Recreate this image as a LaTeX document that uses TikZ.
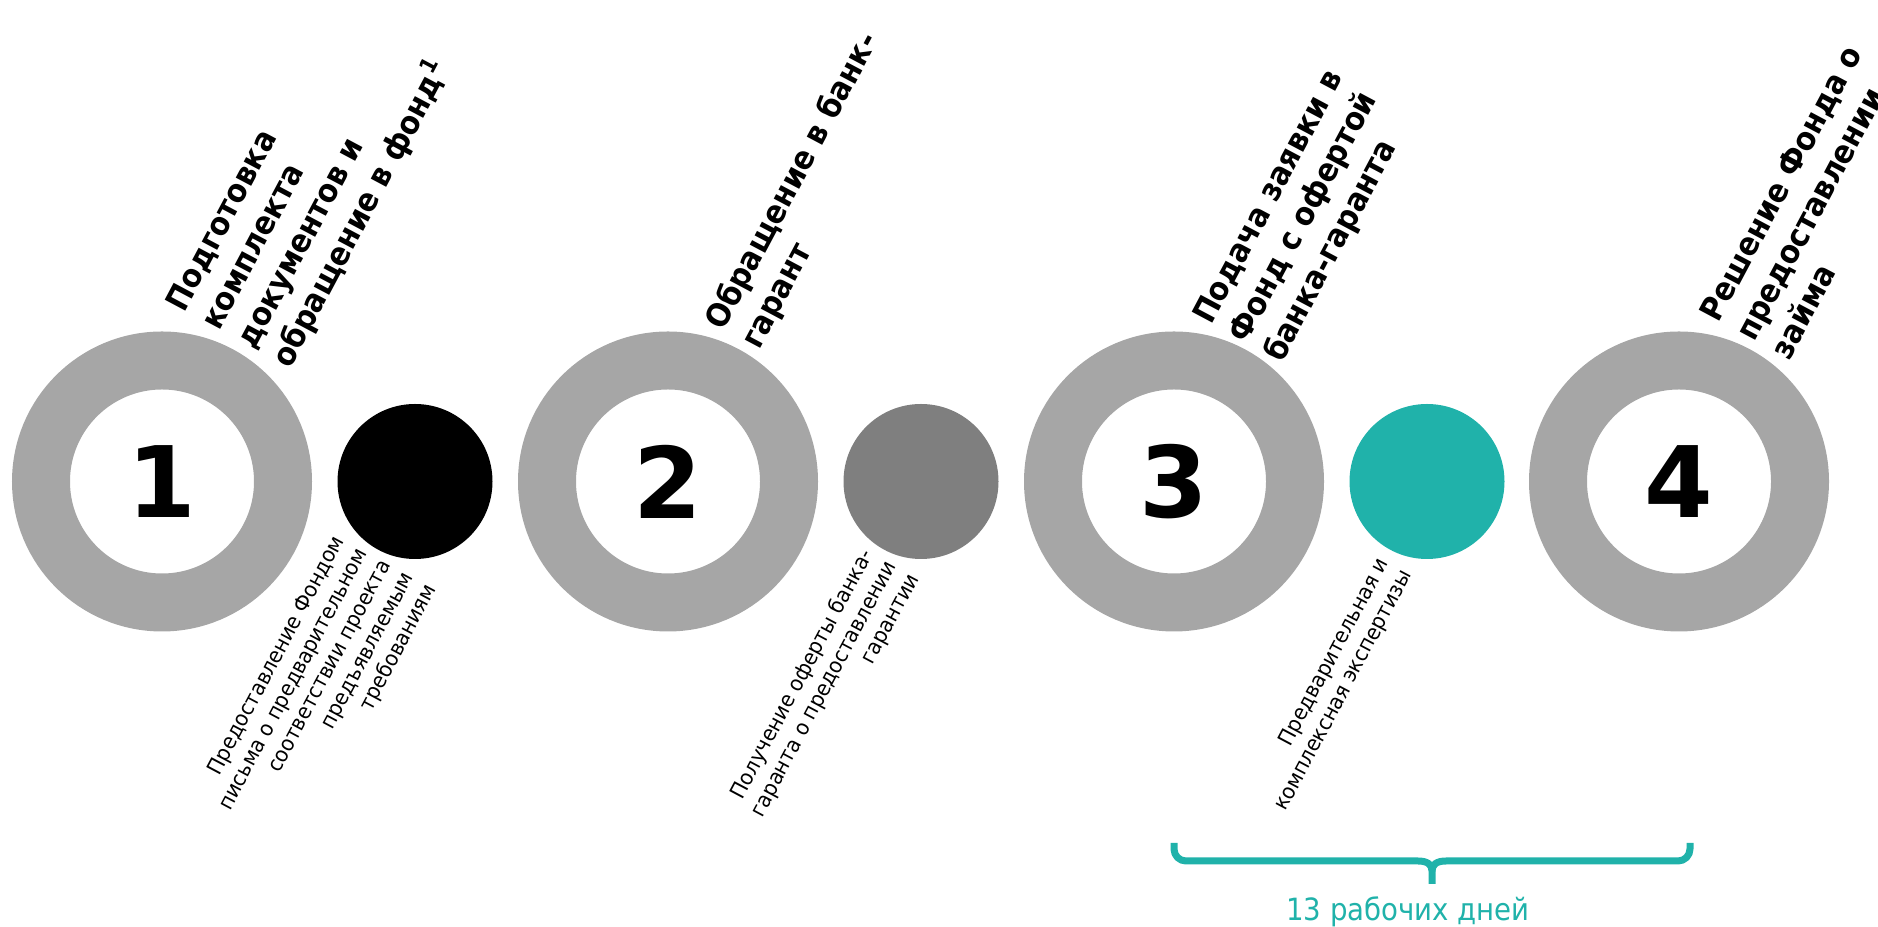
\documentclass[tikz,border=0pt]{standalone}
\usepackage{fontspec}
\setmainfont{DejaVu Sans}
\newfontfamily\headfont[FakeStretch=0.915]{DejaVu Sans}
\newfontfamily\notefont[FakeStretch=0.94]{DejaVu Sans}
\newfontfamily\daysfont[FakeStretch=0.9]{DejaVu Sans}
\definecolor{ringgray}{RGB}{166,166,166}
\definecolor{dotgray}{RGB}{127,127,127}
\definecolor{dotteal}{RGB}{32,178,170}
\tikzset{
  ring-gray/.style={circle, draw=ringgray, line width=43.5pt, minimum size=181.5pt,
    inner sep=0pt, font=\fontsize{74}{74}\selectfont\bfseries},
  node-spot/.style={circle, minimum size=116.25pt, inner sep=0pt},
  label-head/.style={rotate=62, align=left, inner sep=0pt,
    font=\headfont\fontsize{24}{30}\selectfont\bfseries},
  label-note/.style={rotate=62, align=right, inner sep=0pt,
    font=\notefont\fontsize{16}{19.5}\selectfont},
  brace/.style={draw=dotteal, line width=5.25pt, line join=round}
}

\begin{document}
\begin{tikzpicture}[x=0.75pt,y=0.75pt]
  \useasboundingbox (0,0) rectangle (1878,927);

  % steps
  \node[ring-gray] (step1) at (162,445.5) {1};
  \node[node-spot, fill=black] (spot1) at (415,445.5) {};
  \node[ring-gray] (step2) at (668,445.5) {2};
  \node[node-spot, fill=dotgray] (spot2) at (921,445.5) {};
  \node[ring-gray] (step3) at (1174,445.5) {3};
  \node[node-spot, fill=dotteal] (spot3) at (1427,445.5) {};
  \node[ring-gray] (step4) at (1679,445.5) {4};

  % titles above the rings
  \node[label-head, anchor=south west] (head1) at (296,554)
    {Подготовка\\комплекта\\документов и\\обращение в фонд\textsuperscript{1}};
  \node[label-head, anchor=south west] (head2) at (765,573)
    {Обращение в банк-\\гарант};
  \node[label-head, anchor=south west] (head3) at (1288,560)
    {Подача заявки в\\Фонд с офертой\\банка-гаранта};
  \node[label-head, anchor=south west] (head4) at (1790,565)
    {Решение Фонда о\\предоставлении\\займа};

  % notes under the spots
  \node[label-note, anchor=north east] (note1) at (331,394)
    {Предоставление Фондом\\письма о предварительном\\соответствии проекта\\предъявляемым\\требованиям};
  \node[label-note, anchor=north east] (note2) at (858.6,381)
    {Получение оферты банка-\\гаранта о предоставлении\\гарантии};
  \node[label-note, anchor=north east] (note3) at (1375,372)
    {Предварительная и\\комплексная экспертизы};

  % brace
  \draw[brace] (1174,84) -- (1174,78) arc[start angle=180, end angle=270, radius=12]
    -- (1418,66) .. controls (1428,66) and (1432,62) .. (1432,56) -- (1432,43);
  \draw[brace] (1432,56) .. controls (1432,62) and (1436,66) .. (1446,66)
    -- (1678,66) arc[start angle=270, end angle=360, radius=12] -- (1690,84);
  \node[font=\daysfont\fontsize{23}{26}\selectfont, text=dotteal, anchor=base] (days) at (1408,6)
    {13 рабочих дней};
\end{tikzpicture}
\end{document}
